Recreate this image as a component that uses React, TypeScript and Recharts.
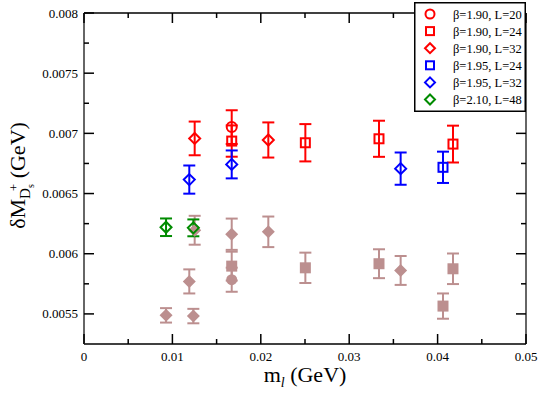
import React from "react";
import {
  ScatterChart,
  Scatter,
  XAxis,
  YAxis,
  ErrorBar,
  ReferenceLine,
  Legend,
} from "recharts";

const FONT = "Liberation Serif";

const RED = "#ff0000";
const BLUE = "#0000ff";
const GREEN = "#008b00";
const BROWN = "#bc8f8f";

// rows are [m_l (GeV), dM (GeV), error]
const B190_L20 = [[0.01671, 0.007052, 0.00014]];
const B190_L24 = [
  [0.01671, 0.006936, 0.00013],
  [0.02504, 0.006922, 0.000155],
  [0.03337, 0.006955, 0.00015],
  [0.04174, 0.006911, 0.000153],
];
const B190_L32 = [
  [0.01252, 0.006958, 0.00014],
  [0.02085, 0.006945, 0.000146],
];
const B195_L24 = [[0.04061, 0.006718, 0.00013]];
const B195_L32 = [
  [0.01191, 0.006616, 0.000117],
  [0.01671, 0.006742, 0.000116],
  [0.03582, 0.006707, 0.000134],
];
const B210_L48 = [
  [0.00928, 0.00622, 0.000073],
  [0.01237, 0.006215, 0.00007],
];

// filled (brown) points, grouped by symbol
const BROWN_CIRCLE = [[0.01671, 0.005784, 0.0001]];
const BROWN_SQUARE = [
  [0.01671, 0.005897, 0.00012],
  [0.02504, 0.005883, 0.000126],
  [0.03337, 0.005917, 0.00012],
  [0.04174, 0.005875, 0.000127],
  [0.04061, 0.005565, 0.000105],
];
const BROWN_DIAMOND = [
  [0.01252, 0.006195, 0.00012],
  [0.02085, 0.006182, 0.000127],
  [0.01191, 0.00577, 0.0001],
  [0.01671, 0.006162, 0.00013],
  [0.03582, 0.005861, 0.00012],
  [0.00928, 0.005488, 0.00006],
  [0.01237, 0.005482, 0.00006],
];

const X_TICKS = [0, 0.005, 0.01, 0.015, 0.02, 0.025, 0.03, 0.035, 0.04, 0.045, 0.05];
const Y_TICKS = [
  0.0055, 0.00575, 0.006, 0.00625, 0.0065, 0.00675, 0.007, 0.00725, 0.0075,
  0.00775, 0.008,
];

const LEGEND_LABELS = [
  "β=1.90, L=20",
  "β=1.90, L=24",
  "β=1.90, L=32",
  "β=1.95, L=24",
  "β=1.95, L=32",
  "β=2.10, L=48",
];

type Mark = "circle" | "square" | "diamond";

const W = 541;
const H = 393;
const MARGIN = { top: 13, right: 15, bottom: 0, left: 0 };
const Y_AXIS_W = 84;
const X_AXIS_H = 49;
const PLOT = {
  left: MARGIN.left + Y_AXIS_W,
  right: W - MARGIN.right,
  top: MARGIN.top,
  bottom: H - MARGIN.bottom - X_AXIS_H,
};

const textStyle = { fontFamily: FONT };

const toPoints = (rows: number[][]) =>
  rows.map(([x, y, err]) => ({ x, y, err }));

const Marker = ({
  cx,
  cy,
  mark,
  color,
  filled,
  size,
}: {
  cx: number;
  cy: number;
  mark: Mark;
  color: string;
  filled: boolean;
  size: number;
}) => {
  const fill = filled ? color : "#fff";
  const fillOpacity = filled ? 1 : 0;
  const sw = filled ? 0 : 2;
  const h = size / 2;
  if (mark === "circle")
    return <circle cx={cx} cy={cy} r={h} fill={fill} fillOpacity={fillOpacity} stroke={color} strokeWidth={sw} />;
  if (mark === "square")
    return (
      <rect x={cx - h} y={cy - h} width={size} height={size} fill={fill} fillOpacity={fillOpacity} stroke={color} strokeWidth={sw} />
    );
  return (
    <polygon
      points={`${cx},${cy - h} ${cx + h},${cy} ${cx},${cy + h} ${cx - h},${cy}`}
      fill={fill}
      fillOpacity={fillOpacity}
      stroke={color}
      strokeWidth={sw}
    />
  );
};

const shapeOf = (mark: Mark, color: string, filled: boolean, size: number) => (p: any) =>
  <Marker cx={p.cx} cy={p.cy} mark={mark} color={color} filled={filled} size={size} />;

const XTick = (props: any) => {
  const { x, y, payload } = props;
  const v = payload.value as number;
  const major = Math.round(v * 1000) % 10 === 0;
  const len = major ? 10 : 5;
  return (
    <g>
      <line x1={x} x2={x} y1={PLOT.bottom} y2={PLOT.bottom - len} stroke="#000" strokeWidth={1.5} />
      <line x1={x} x2={x} y1={PLOT.top} y2={PLOT.top + len} stroke="#000" strokeWidth={1.5} />
      {major && (
        <text x={x} y={y} textAnchor="middle" style={textStyle} fontSize={13} fill="#000">
          {String(v)}
        </text>
      )}
    </g>
  );
};

const YTick = (props: any) => {
  const { x, y, payload } = props;
  const v = payload.value as number;
  const major = Math.round(v * 100000) % 50 === 0;
  const len = major ? 10 : 5;
  return (
    <g>
      <line x1={PLOT.left} x2={PLOT.left + len} y1={y} y2={y} stroke="#000" strokeWidth={1.5} />
      <line x1={PLOT.right} x2={PLOT.right - len} y1={y} y2={y} stroke="#000" strokeWidth={1.5} />
      {major && (
        <text x={x} y={y + 4.5} textAnchor="end" style={textStyle} fontSize={13} fill="#000">
          {String(v)}
        </text>
      )}
    </g>
  );
};

const XTitle = (props: any) => {
  const vb = props.viewBox;
  return (
    <text
      x={vb.x + vb.width / 2}
      y={vb.y + 38}
      textAnchor="middle"
      style={textStyle}
      fontSize={22}
      fill="#000"
    >
      m
      <tspan fontSize={14} fontStyle="italic" dy={5}>
        l
      </tspan>
      <tspan dy={-5}> (GeV)</tspan>
    </text>
  );
};

const YTitle = (props: any) => {
  const vb = props.viewBox;
  const cx = vb.x + 25;
  const cy = vb.y + vb.height / 2 - 3;
  return (
    <text
      x={cx}
      y={cy}
      transform={`rotate(-90, ${cx}, ${cy})`}
      textAnchor="middle"
      style={textStyle}
      fontSize={22}
      fill="#000"
    >
      δM
      <tspan fontSize={15} dy={5}>
        D
      </tspan>
      <tspan fontSize={10} dy={4}>
        s
      </tspan>
      <tspan fontSize={13} dx={-7} dy={-16}>
        +
      </tspan>
      <tspan dy={7}> (GeV)</tspan>
    </text>
  );
};

const LEGEND_MARKS: { mark: Mark; color: string; size: number }[] = [
  { mark: "circle", color: RED, size: 9 },
  { mark: "square", color: RED, size: 8 },
  { mark: "diamond", color: RED, size: 10 },
  { mark: "square", color: BLUE, size: 8 },
  { mark: "diamond", color: BLUE, size: 10 },
  { mark: "diamond", color: GREEN, size: 10 },
];

const LegendBox = () => (
  <svg width={112} height={110} style={{ display: "block" }}>
    <rect x={0.75} y={0.75} width={110.5} height={108.5} fill="#fff" stroke="#000" strokeWidth={1.5} />
    {LEGEND_LABELS.map((label, i) => {
      const cy = 12 + i * 17.1;
      const m = LEGEND_MARKS[i];
      return (
        <g key={label}>
          <Marker cx={16} cy={cy} mark={m.mark} color={m.color} filled={false} size={m.size} />
          <text x={39} y={cy + 4.5} style={textStyle} fontSize={12.5} fill="#000">
            {label}
          </text>
        </g>
      );
    })}
  </svg>
);

const SERIES: { rows: number[][]; mark: Mark; color: string; filled: boolean; size: number }[] = [
  { rows: BROWN_CIRCLE, mark: "circle", color: BROWN, filled: true, size: 11 },
  { rows: BROWN_SQUARE, mark: "square", color: BROWN, filled: true, size: 11 },
  { rows: BROWN_DIAMOND, mark: "diamond", color: BROWN, filled: true, size: 13 },
  { rows: B190_L20, mark: "circle", color: RED, filled: false, size: 10 },
  { rows: B190_L24, mark: "square", color: RED, filled: false, size: 9 },
  { rows: B190_L32, mark: "diamond", color: RED, filled: false, size: 11 },
  { rows: B195_L24, mark: "square", color: BLUE, filled: false, size: 9 },
  { rows: B195_L32, mark: "diamond", color: BLUE, filled: false, size: 11 },
  { rows: B210_L48, mark: "diamond", color: GREEN, filled: false, size: 11 },
];

export default function App() {
  return (
    <div style={{ position: "absolute", left: 0, top: 0, width: W, height: H, background: "#fff" }}>
      <ScatterChart width={W} height={H} margin={MARGIN}>
        <XAxis
          type="number"
          dataKey="x"
          domain={[0, 0.05]}
          ticks={X_TICKS}
          interval={0}
          allowDataOverflow
          height={X_AXIS_H}
          tickSize={0}
          tickMargin={17}
          tickLine={false}
          tick={<XTick />}
          axisLine={{ stroke: "#000", strokeWidth: 1.5 }}
          label={<XTitle />}
        />
        <YAxis
          type="number"
          dataKey="y"
          domain={[0.00525, 0.008]}
          ticks={Y_TICKS}
          interval={0}
          allowDataOverflow
          width={Y_AXIS_W}
          tickSize={0}
          tickMargin={6}
          tickLine={false}
          tick={<YTick />}
          axisLine={{ stroke: "#666", strokeWidth: 2 }}
          label={<YTitle />}
        />
        <ReferenceLine y={0.008} stroke="#000" strokeWidth={1.5} />
        <ReferenceLine x={0.05} stroke="#666" strokeWidth={2} />
        {SERIES.map((s, i) => (
          <Scatter
            key={i}
            data={toPoints(s.rows)}
            shape={shapeOf(s.mark, s.color, s.filled, s.size)}
            isAnimationActive={false}
            legendType="none"
          >
            <ErrorBar dataKey="err" direction="y" width={6} stroke={s.color} strokeWidth={2} />
          </Scatter>
        ))}
        <Legend
          layout="vertical"
          align="center"
          verticalAlign="middle"
          content={() => <LegendBox />}
          wrapperStyle={{ left: 414, top: 2, width: 112, height: 110 }}
        />
      </ScatterChart>
    </div>
  );
}
